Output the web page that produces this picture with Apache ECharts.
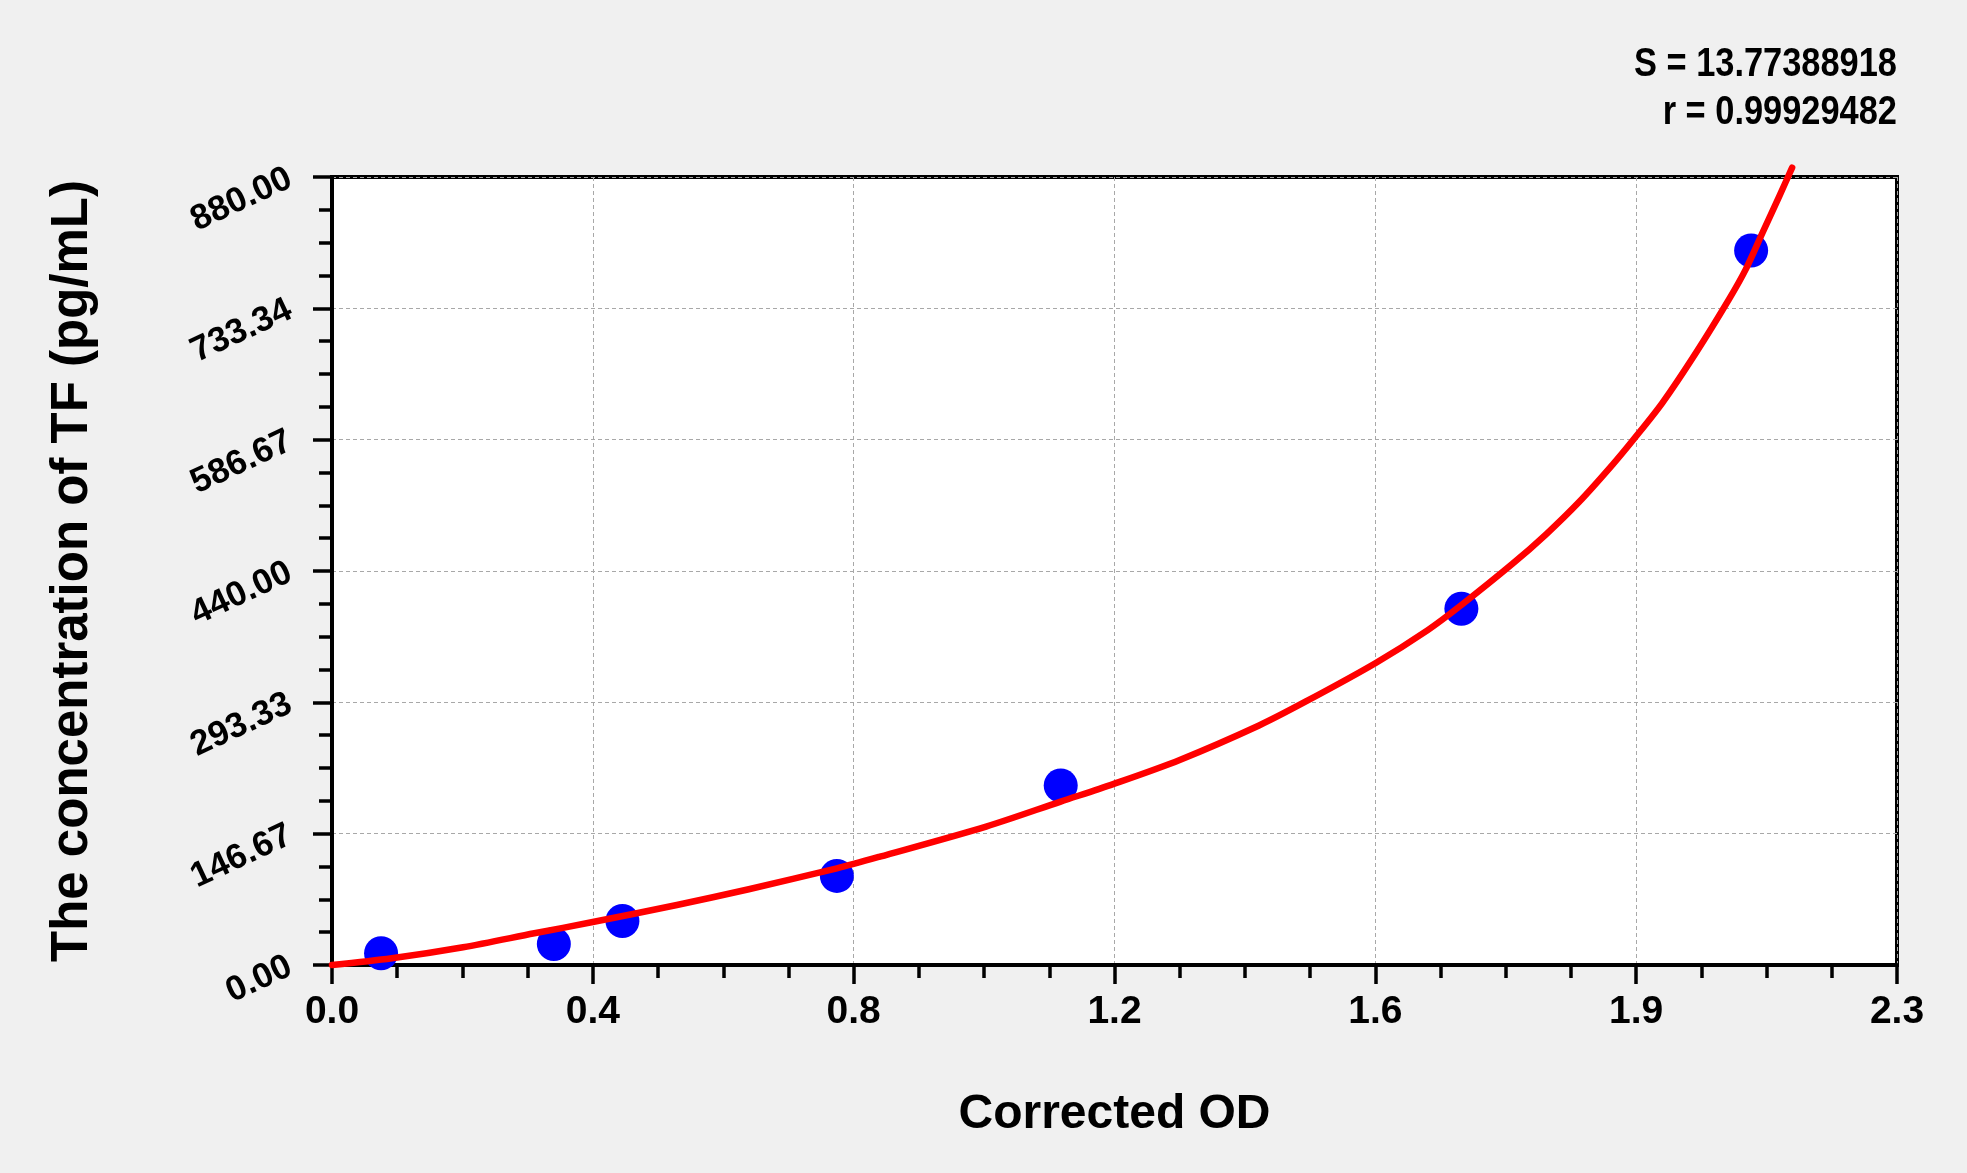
<!DOCTYPE html>
<html>
<head>
<meta charset="utf-8">
<script src="https://cdn.jsdelivr.net/npm/echarts@6/dist/echarts.min.js"></script>
<style>
html,body{margin:0;padding:0;background:#f0f0f0;}
#chart{width:1967px;height:1173px;}
</style>
</head>
<body>
<div id="chart"></div>
<script>
// ---- data ----
var pointX = [0.073, 0.330, 0.432, 0.751, 1.084, 1.680, 2.111];
var pointY = [13.1, 23.5, 49.2, 99.5, 200.4, 397.9, 798];

var curveX = [0, 0.089, 0.195, 0.301, 0.386, 0.513, 0.620, 0.751, 0.815, 0.973, 1.084, 1.162, 1.261, 1.379, 1.448, 1.552, 1.630, 1.680, 1.756, 1.806, 1.855, 1.905, 1.936, 1.979, 2.029, 2.078, 2.103, 2.128, 2.153, 2.172];
var curveY = [0, 7.5, 19.8, 35.4, 47.7, 67, 84.6, 108, 121, 154.6, 182.5, 202, 229, 267.5, 294, 337, 374, 402, 448, 481, 517, 558.8, 586.8, 627.8, 683.7, 743.3, 776.8, 817.8, 858.7, 890.5];

var xTickLabels = ['0.0', '0.4', '0.8', '1.2', '1.6', '1.9', '2.3'];
var yTickLabels = ['0.00', '146.67', '293.33', '440.00', '586.67', '733.34', '880.00'];
var xMax = 2.328, xStep = 0.388;
var yMax = 880, yStep = 880 / 6;

var statS = 'S = 13.77388918';
var statR = 'r = 0.99929482';
var xTitle = 'Corrected OD';
var yTitle = 'The concentration of TF (pg/mL)';

// ---- build ----
var FONT = "'Liberation Sans', Arial, sans-serif";
var points = pointX.map(function (x, i) { return [x, pointY[i]]; });
var curve = curveX.map(function (x, i) { return [x, curveY[i]]; });

var chart = echarts.init(document.getElementById('chart'));
chart.setOption({
  backgroundColor: '#f0f0f0',
  animation: false,
  grid: {
    left: 332, right: 70, top: 177, bottom: 208,
    show: true, backgroundColor: '#ffffff', borderColor: '#000', borderWidth: 4
  },
  xAxis: {
    type: 'value', min: 0, max: xMax, interval: xStep,
    name: xTitle, nameLocation: 'middle', nameGap: 126,
    nameTextStyle: { fontFamily: FONT, fontWeight: 'bold', fontSize: 48, color: '#000' },
    axisLine: { lineStyle: { color: '#000', width: 4 } },
    axisTick: { show: true, length: 19, lineStyle: { color: '#000', width: 3.5 } },
    minorTick: { show: true, splitNumber: 4, length: 13, lineStyle: { color: '#000', width: 3.5 } },
    splitLine: { show: true, lineStyle: { color: '#a8a8a8', width: 1, type: [4, 3] } },
    axisLabel: {
      margin: 28, fontFamily: FONT, fontWeight: 'bold', fontSize: 39, color: '#000',
      showMinLabel: true, showMaxLabel: true, hideOverlap: false,
      formatter: function (v) { return xTickLabels[Math.round(v / xStep)] || ''; }
    }
  },
  yAxis: {
    type: 'value', min: 0, max: yMax, interval: yStep,
    name: yTitle, nameLocation: 'middle', nameGap: 234,
    nameTextStyle: { fontFamily: FONT, fontWeight: 'bold', fontSize: 51, color: '#000' },
    axisLine: { lineStyle: { color: '#000', width: 4 } },
    axisTick: { show: true, length: 19, lineStyle: { color: '#000', width: 3.5 } },
    minorTick: { show: true, splitNumber: 4, length: 13, lineStyle: { color: '#000', width: 3.5 } },
    splitLine: { show: true, lineStyle: { color: '#a8a8a8', width: 1, type: [4, 3] } },
    axisLabel: {
      margin: 42, rotate: 25, fontFamily: FONT, fontWeight: 'bold', fontSize: 35, color: '#000',
      showMinLabel: true, showMaxLabel: true, hideOverlap: false,
      formatter: function (v) { return yTickLabels[Math.round(v / yStep)] || ''; }
    }
  },
  graphic: [
    { type: 'text', x: 1897, y: 65, scaleX: 0.86, style: { text: statS, font: "bold 40px 'Liberation Sans', Arial, sans-serif", fill: '#000', textAlign: 'right', textVerticalAlign: 'middle' } },
    { type: 'text', x: 1897, y: 112.5, scaleX: 0.86, style: { text: statR, font: "bold 40px 'Liberation Sans', Arial, sans-serif", fill: '#000', textAlign: 'right', textVerticalAlign: 'middle' } }
  ],
  series: [
    {
      type: 'scatter', data: points, symbol: 'circle', symbolSize: 34,
      itemStyle: { color: '#0000ff', opacity: 1 }, z: 3
    },
    {
      type: 'line', data: curve, smooth: 0.3, showSymbol: false, clip: false,
      lineStyle: { color: '#ff0000', width: 6.5, cap: 'round', join: 'round' }, z: 4
    }
  ]
});
</script>
</body>
</html>
